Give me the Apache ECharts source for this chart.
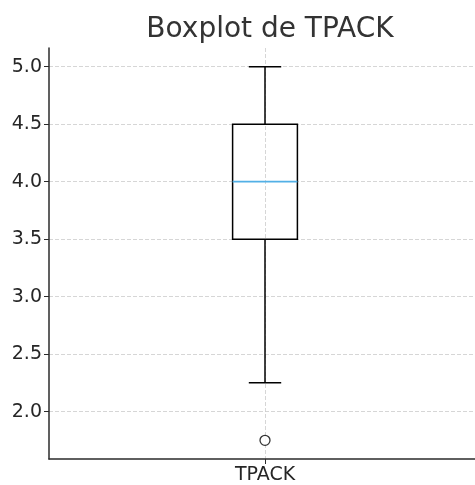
<!DOCTYPE html>
<html>
<head>
<meta charset="utf-8">
<script src="https://cdn.jsdelivr.net/npm/echarts@6/dist/echarts.min.js"></script>
<style>
  html, body { margin: 0; padding: 0; background: #fff; }
  #main { width: 475px; height: 485px; }
</style>
</head>
<body>
<div id="main"></div>
<script>
// données du boxplot
var categories = ['TPACK'];
var boxStats = [[1, 2.25, 3.5, 4.0, 4.5, 5.0]]; // [x, min, q1, mediane, q3, max]
var outliers = [[1, 1.75]];
var yTicks = [2.0, 2.5, 3.0, 3.5, 4.0, 4.5, 5.0];

var chart = echarts.init(document.getElementById('main'));

var textColor = '#262626';
var axisColor = '#2b2b2b';

chart.setOption({
    animation: false,
    backgroundColor: '#fff',
    title: {
        text: 'Boxplot de TPACK',
        left: 265,
        textAlign: 'center',
        top: 11,
        textStyle: {
            fontFamily: 'DejaVu Sans',
            fontSize: 28,
            fontWeight: 'normal',
            color: '#333'
        }
    },
    grid: { left: 49, top: 48, right: 0, bottom: 25 },
    xAxis: {
        type: 'value',
        min: 0.5,
        max: 1.4861, // le cadre est coupé à droite
        axisLine: { show: true, lineStyle: { color: axisColor, width: 1.5 } },
        axisTick: { show: true, inside: false, length: 5, customValues: [1], lineStyle: { color: axisColor, width: 1 } },
        axisLabel: {
            customValues: [1],
            margin: 7,
            fontFamily: 'DejaVu Sans',
            fontSize: 19,
            color: textColor,
            formatter: function () { return categories[0]; }
        },
        splitLine: { show: true, lineStyle: { color: '#cccccc', type: [4, 2], width: 0.8 } }
    },
    yAxis: {
        type: 'value',
        min: 1.5875,
        max: 5.1625,
        axisLine: { show: true, lineStyle: { color: axisColor, width: 1.5 } },
        axisTick: { show: true, inside: false, length: 5, customValues: yTicks, lineStyle: { color: axisColor, width: 1 } },
        axisLabel: {
            customValues: yTicks,
            margin: 7,
            fontFamily: 'DejaVu Sans',
            fontSize: 19,
            color: textColor,
            formatter: function (v) { return v.toFixed(1); }
        },
        splitLine: { show: true, lineStyle: { color: '#cccccc', type: [4, 2], width: 0.8 } }
    },
    series: [
        {
            type: 'custom',
            data: boxStats,
            z: 5,
            renderItem: function (params, api) {
                var x = api.value(0);
                var pMin = api.coord([x, api.value(1)]);
                var pQ1 = api.coord([x, api.value(2)]);
                var pMed = api.coord([x, api.value(3)]);
                var pQ3 = api.coord([x, api.value(4)]);
                var pMax = api.coord([x, api.value(5)]);
                var boxW = api.size([0.15, 0])[0];
                var capW = boxW / 2;
                var cx = pMed[0];
                var lineStyle = { stroke: '#000', lineWidth: 1.5, fill: null };
                return {
                    type: 'group',
                    children: [
                        { type: 'line', shape: { x1: cx, y1: pQ3[1], x2: cx, y2: pMax[1] }, style: lineStyle },
                        { type: 'line', shape: { x1: cx, y1: pQ1[1], x2: cx, y2: pMin[1] }, style: lineStyle },
                        { type: 'line', shape: { x1: cx - capW / 2, y1: pMax[1], x2: cx + capW / 2, y2: pMax[1] }, style: lineStyle },
                        { type: 'line', shape: { x1: cx - capW / 2, y1: pMin[1], x2: cx + capW / 2, y2: pMin[1] }, style: lineStyle },
                        { type: 'rect', shape: { x: cx - boxW / 2, y: pQ3[1], width: boxW, height: pQ1[1] - pQ3[1] }, style: { stroke: '#000', lineWidth: 1.5, fill: 'rgba(0,0,0,0)' } },
                        { type: 'line', shape: { x1: cx - boxW / 2, y1: pMed[1], x2: cx + boxW / 2, y2: pMed[1] }, style: { stroke: '#52b0e6', lineWidth: 1.8 } }
                    ]
                };
            }
        },
        {
            type: 'scatter',
            data: outliers,
            symbol: 'circle',
            symbolSize: 10,
            z: 6,
            itemStyle: { color: '#fff', borderColor: '#000', borderWidth: 1.3 }
        }
    ]
});
</script>
</body>
</html>
